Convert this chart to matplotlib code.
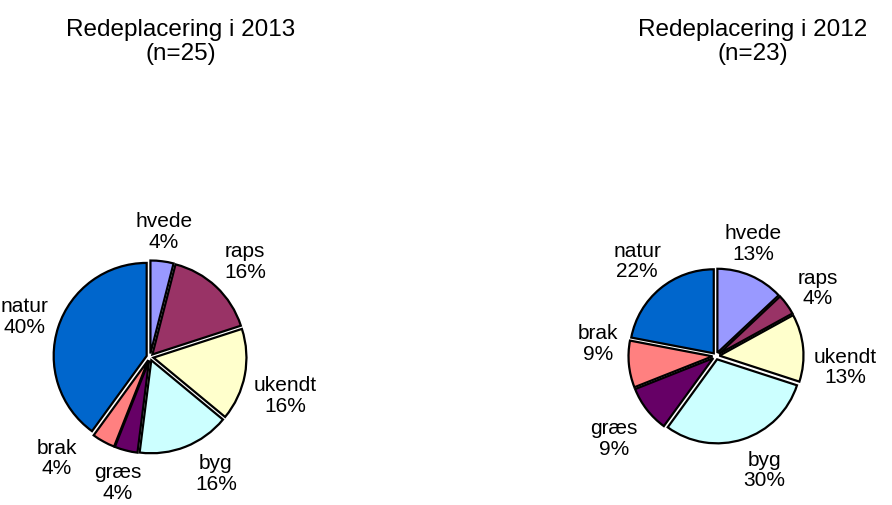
import numpy as np
import matplotlib.pyplot as plt

plt.rcParams['font.family'] = ['Liberation Sans', 'DejaVu Sans']

categories = ['hvede', 'raps', 'ukendt', 'byg', 'græs', 'brak', 'natur']
pct_2013 = [4, 16, 16, 16, 4, 4, 40]
pct_2012 = [13, 4, 13, 30, 9, 9, 22]
n_2013 = 25
n_2012 = 23
colors = ['#9999FF', '#993366', '#FFFFCC', '#CCFFFF', '#660066', '#FF8080', '#0066CC']

# angular nudges (degrees) so labels don't collide
nudge_2013 = [1, -1.5, -5, 8, 0, -14, 0]
nudge_2012 = [5, -2, -10, 5, 1, -11.6, 0]

W, H = 892, 506
fig = plt.figure(figsize=(W / 100, H / 100), dpi=100)
ax = fig.add_axes([0, 0, 1, 1])


def draw_pie(values, nudges, cx, cy, r, title, tx):
    # explode is in data units here (1 unit = 1 px)
    wedges, _ = ax.pie(values, colors=colors, startangle=90, counterclock=False,
                       center=(cx, cy), radius=r, explode=[3.5] * len(values),
                       wedgeprops=dict(edgecolor='black', linewidth=1.6))
    ax.set_xlim(0, W)
    ax.set_ylim(0, H)
    renderer = fig.canvas.get_renderer()
    for w, name, v, dn in zip(wedges, categories, values, nudges):
        ang = np.deg2rad((w.theta1 + w.theta2) / 2 + dn)
        ux, uy = np.cos(ang), np.sin(ang)
        t = ax.text(cx, cy, f'{name}\n{v}%', ha='center', va='center',
                    fontsize=15, linespacing=1.12)
        bb = t.get_window_extent(renderer)
        hw, hh = bb.width / 2, bb.height / 2
        off = min(hw / max(abs(ux), 1e-6), hh / max(abs(uy), 1e-6))
        d = r + 14 + 4 * max(0.0, -uy) + off
        x, y = cx + d * ux, cy + d * uy
        t.set_position((x, max(y, hh + 3)))
    ax.text(tx, H - 42, title, ha='center', va='center', fontsize=17.5,
            linespacing=1.15)


draw_pie(pct_2013, nudge_2013, 150, H - 358, 93,
         f'Redeplacering i 2013\n(n={n_2013})', 181)
draw_pie(pct_2012, nudge_2012, 716, H - 357, 84,
         f'Redeplacering i 2012\n(n={n_2012})', 753)

ax.set_xlim(0, W)
ax.set_ylim(0, H)
ax.set_aspect('equal')
ax.axis('off')
fig.savefig('out.png', dpi=100)
